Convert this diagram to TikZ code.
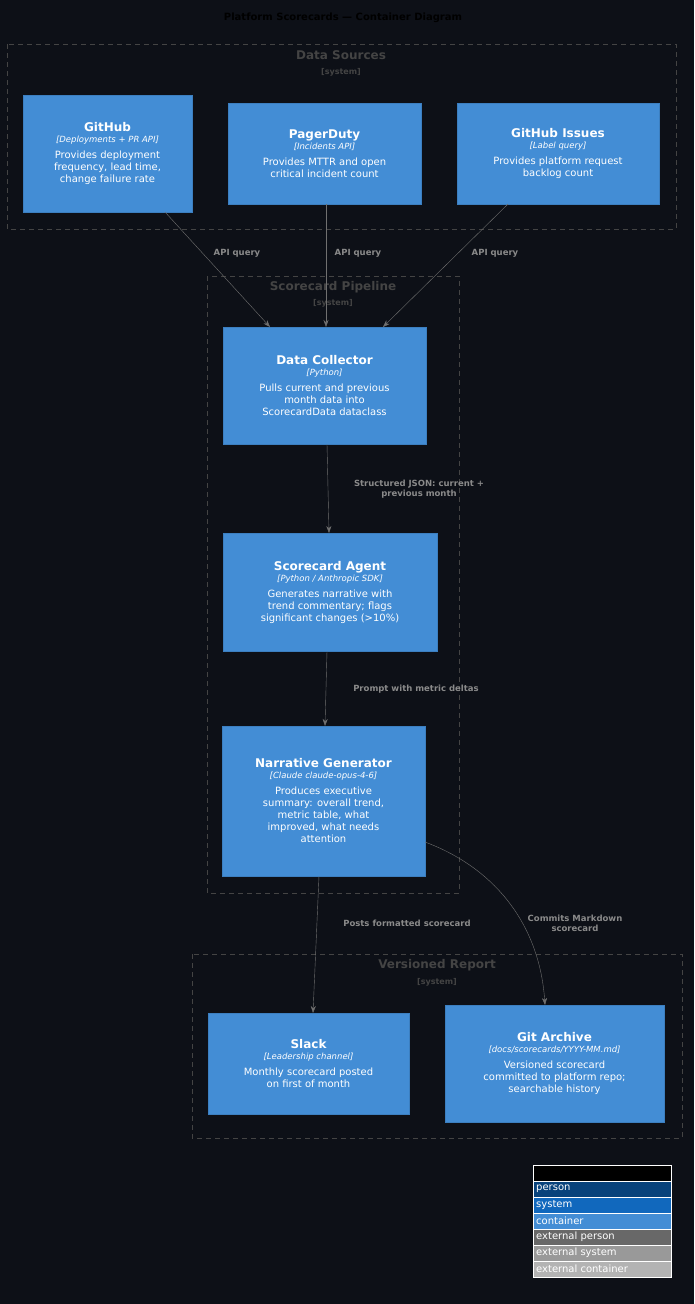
\documentclass[tikz,border=0pt]{standalone}
\usepackage{fontspec}
\setmainfont{DejaVu Sans}
\usetikzlibrary{arrows.meta}
\definecolor{bg}{HTML}{0D1017}
\definecolor{cbox}{HTML}{438DD5}
\definecolor{cbord}{HTML}{3C7FC0}
\definecolor{edgec}{HTML}{707070}
\definecolor{labc}{HTML}{8A8A8A}
\definecolor{framec}{HTML}{444444}
\begin{document}
\begin{tikzpicture}[x=1pt,y=-1pt,
  cont/.style={draw=cbord,fill=cbox,text=white,align=center,inner sep=0pt,font=\fontsize{10}{12}\selectfont},
  frame/.style={draw=framec,dashed,dash pattern=on 5pt off 4pt},
  ftitle/.style={text=framec,font=\bfseries\fontsize{12}{14}\selectfont},
  fsub/.style={text=framec,font=\bfseries\fontsize{8}{10}\selectfont},
  rel/.style={draw=edgec,-{Stealth[length=7pt,width=5pt]}},
  rlab/.style={text=labc,font=\bfseries\fontsize{8.5}{10}\selectfont,align=center},
  leg/.style={anchor=west,text=white,font=\fontsize{10}{11}\selectfont,inner sep=2pt}]
\fill[bg] (0,0) rectangle (694,1304);
\useasboundingbox (0,0) rectangle (694,1304);
\node[font=\bfseries\fontsize{10}{12}\selectfont,text=black] (title) at (343,18) {Platform Scorecards — Container Diagram};
% frames
\draw[frame] (7,44) rectangle (676,229);
\node[ftitle] (t1) at (341,55) {Data Sources};
\node[fsub] (s1) at (341,72) {[system]};
\draw[frame] (207,276) rectangle (459,893);
\node[ftitle] (t2) at (333,287) {Scorecard Pipeline};
\node[fsub] (s2) at (333,303) {[system]};
\draw[frame] (192,954) rectangle (682,1138);
\node[ftitle] (t3) at (437,965) {Versioned Report};
\node[fsub] (s3) at (437,982) {[system]};
% containers
\newcommand{\ctext}[3]{{\bfseries\fontsize{12}{14}\selectfont #1}\\[-1pt]{\itshape\fontsize{8.5}{10}\selectfont [#2]}\\[4pt]#3}
\node[cont,minimum width=169pt,minimum height=117pt] (gh) at (107.5,153.5) {\ctext{GitHub}{Deployments + PR API}{Provides deployment\\frequency, lead time,\\change failure rate}};
\node[cont,minimum width=193pt,minimum height=101pt] (pd) at (324.5,153.5) {\ctext{PagerDuty}{Incidents API}{Provides MTTR and open\\critical incident count}};
\node[cont,minimum width=202pt,minimum height=101pt] (gi) at (558,153.5) {\ctext{GitHub Issues}{Label query}{Provides platform request\\backlog count}};
\node[cont,minimum width=203pt,minimum height=117pt] (dc) at (324.5,385.5) {\ctext{Data Collector}{Python}{Pulls current and previous\\month data into\\ScorecardData dataclass}};
\node[cont,minimum width=214pt,minimum height=118pt] (sa) at (330,592) {\ctext{Scorecard Agent}{Python / Anthropic SDK}{Generates narrative with\\trend commentary; flags\\significant changes (>10\%)}};
\node[cont,minimum width=203pt,minimum height=150pt] (ng) at (323.5,801) {\ctext{Narrative Generator}{Claude claude-opus-4-6}{Produces executive\\summary: overall trend,\\metric table, what\\improved, what needs\\attention}};
\node[cont,minimum width=201pt,minimum height=101pt] (sl) at (308.5,1063.5) {\ctext{Slack}{Leadership channel}{Monthly scorecard posted\\on first of month}};
\node[cont,minimum width=219pt,minimum height=117pt] (ga) at (554.5,1063.5) {\ctext{Git Archive}{docs/scorecards/YYYY-MM.md}{Versioned scorecard\\committed to platform repo;\\searchable history}};
% relations
\coordinate (gh1) at (165,212); \coordinate (dc1) at (270,327);
\coordinate (pd1) at (326,204); \coordinate (dc2) at (326,327);
\coordinate (gi1) at (508,204); \coordinate (dc3) at (383,327);
\draw[rel] (gh1) -- (dc1); \draw[rel] (pd1) -- (dc2); \draw[rel] (gi1) -- (dc3);
\node[rlab] (l1) at (237,253) {API query};
\node[rlab] (l2) at (358,253) {API query};
\node[rlab] (l3) at (495,253) {API query};
\draw[rel] (327,444) -- (329,533);
\node[rlab] (l4) at (419,489) {Structured JSON: current +\\previous month};
\draw[rel] (327,651) -- (325,726);
\node[rlab] (l5) at (416,689) {Prompt with metric deltas};
\draw[rel] (319,876) -- (313,1013);
\node[rlab] (l6) at (407,923) {Posts formatted scorecard};
\draw[rel] (425,842) .. controls (500,870) and (540,930) .. (545,1005);
\node[rlab] (l7) at (575,923) {Commits Markdown\\scorecard};
% legend
\draw[white,fill=black] (533,1165) rectangle (671,1181);
\node[leg,text=black,font=\bfseries\fontsize{10}{11}\selectfont] (lg) at (534,1173) {Legend};
\foreach \c/\t [count=\i] in {08427B/person,1168BD/system,438DD5/container,686868/external person,999999/external system,B3B3B3/external container}{
  \definecolor{tmp}{HTML}{\c}
  \draw[white,fill=tmp] (533,1165+16*\i) rectangle (671,1181+16*\i);
  \node[leg] at (534,1173+16*\i) {\t};
}
\end{tikzpicture}
\end{document}
